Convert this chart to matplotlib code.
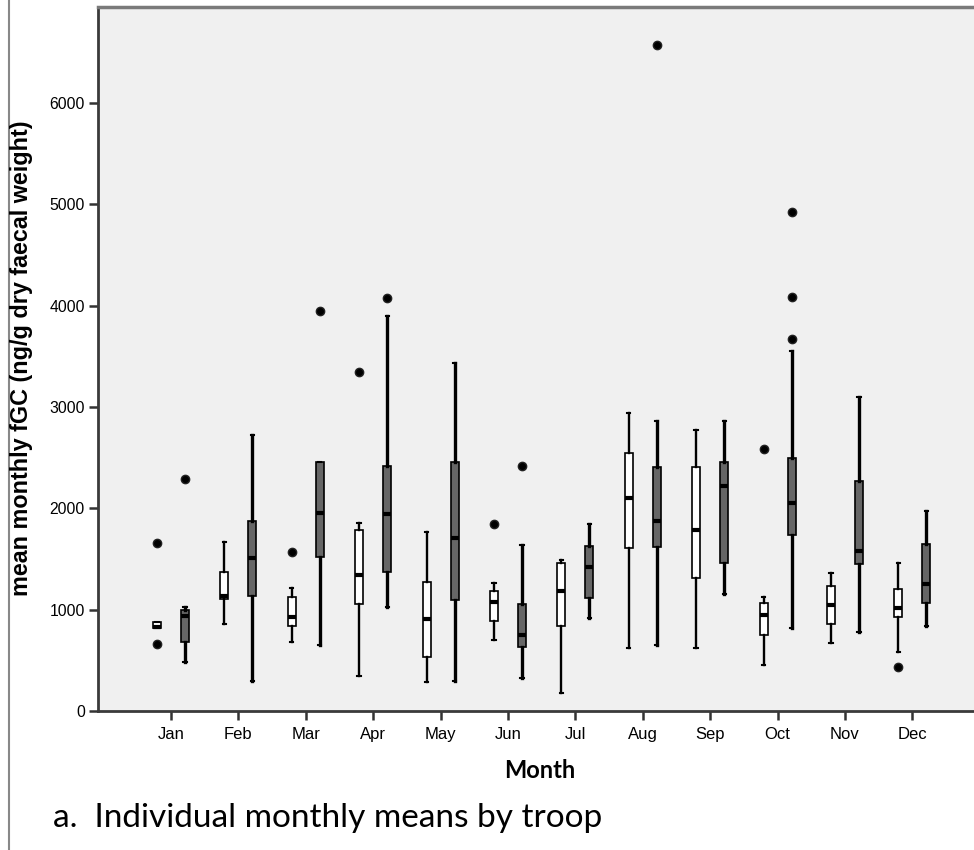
import matplotlib
matplotlib.use('Agg')
import matplotlib.pyplot as plt
from matplotlib.lines import Line2D

months = ['Jan', 'Feb', 'Mar', 'Apr', 'May', 'Jun', 'Jul', 'Aug', 'Sep', 'Oct', 'Nov', 'Dec']

# troop 1 (white boxes)
t1_q1 = [815, 1105, 839, 1056, 533, 888, 839, 1609, 1313, 750, 859, 928]
t1_med = [830, 1135, 928, 1342, 908, 1076, 1184, 2102, 1786, 947, 1046, 1016]
t1_q3 = [878, 1372, 1125, 1786, 1273, 1184, 1461, 2546, 2412, 1066, 1234, 1204]
t1_lo = [815, 858, 681, 345, 286, 701, 178, 622, 622, 454, 671, 582]
t1_hi = [878, 1668, 1214, 1855, 1767, 1263, 1490, 2941, 2773, 1125, 1362, 1461]
t1_out = [[660, 1660], [], [1569], [3345], [], [1845], [], [], [], [2586], [], [434]]

# troop 2 (dark boxes)
t2_q1 = [681, 1135, 1520, 1372, 1095, 632, 1115, 1618, 1461, 1737, 1451, 1066]
t2_med = [938, 1510, 1954, 1944, 1707, 750, 1421, 1875, 2220, 2053, 1579, 1253]
t2_q3 = [997, 1875, 2457, 2418, 2457, 1056, 1628, 2412, 2457, 2497, 2270, 1648]
t2_lo = [484, 296, 651, 1026, 296, 326, 918, 651, 1155, 819, 780, 839]
t2_hi = [1026, 2724, 2457, 3898, 3434, 1638, 1845, 2862, 2862, 3553, 3099, 1974]
t2_out = [[2290], [], [3948], [4076], [], [2418], [], [6573], [], [3676, 4086, 4925], [], []]


def make_stats(q1, med, q3, lo, hi, out):
    stats = []
    for i in range(len(q1)):
        stats.append({'q1': q1[i], 'med': med[i], 'q3': q3[i],
                      'whislo': lo[i], 'whishi': hi[i], 'fliers': out[i]})
    return stats


fig = plt.figure(figsize=(9.74, 8.5), dpi=100)
ax = fig.add_axes([98 / 974, 1 - 711 / 850, 1 - 98 / 974, 704 / 850])
ax.set_facecolor('#f0f0f0')

pos = list(range(len(months)))
off = 0.208
w = 0.12

groups = [
    (make_stats(t1_q1, t1_med, t1_q3, t1_lo, t1_hi, t1_out), -off, 'white', 1.7),
    (make_stats(t2_q1, t2_med, t2_q3, t2_lo, t2_hi, t2_out), off, '#666666', 2.4),
]
for stats, dx, fc, wlw in groups:
    ax.bxp(stats, positions=[p + dx for p in pos], widths=w, capwidths=0.05,
           patch_artist=True, manage_ticks=False,
           boxprops=dict(facecolor=fc, edgecolor='black', linewidth=1.2),
           medianprops=dict(color='black', linewidth=3, solid_capstyle='butt'),
           whiskerprops=dict(color='black', linewidth=wlw),
           capprops=dict(color='black', linewidth=1.5),
           flierprops=dict(marker='o', markerfacecolor='black', markeredgecolor='#222222',
                           markersize=6, linestyle='none'))

ax.set_xlim(-1.083, 11.914)
ax.set_ylim(0, 6948)
ax.set_xticks(pos)
ax.set_xticklabels(months, fontsize=12, family='Liberation Sans')
ax.set_yticks(range(0, 7000, 1000))
ax.set_yticklabels([str(v) for v in range(0, 7000, 1000)], fontsize=11.3, family='Liberation Sans')
ax.tick_params(length=6.5, width=1.8, color='#333333', pad=3)
ax.tick_params(axis='x', pad=5)

for s in ['left', 'bottom']:
    ax.spines[s].set_color('#3a3a3a')
    ax.spines[s].set_linewidth(2)
ax.spines['top'].set_color('#7a7a7a')
ax.spines['top'].set_linewidth(2.5)
ax.spines['right'].set_visible(False)

fig.text(22 / 974, 1 - 358 / 850, 'mean monthly fGC (ng/g dry faecal weight)', rotation=90,
         ha='center', va='center', fontsize=16.8, fontweight='bold', family='Liberation Sans')
fig.text(540 / 974, 1 - 771 / 850, 'Month', ha='center', va='center',
         fontsize=17, fontweight='bold', family='Lato')
fig.text(53 / 974, 1 - 827 / 850, 'a.  Individual monthly means by troop', ha='left',
         va='baseline', fontsize=24, family='Lato')

# thin frame line at the left edge of the figure
fig.add_artist(Line2D([9 / 974, 9 / 974], [0, 1], transform=fig.transFigure,
                      color='#888888', linewidth=1.5))

fig.savefig('out.png', dpi=100)
